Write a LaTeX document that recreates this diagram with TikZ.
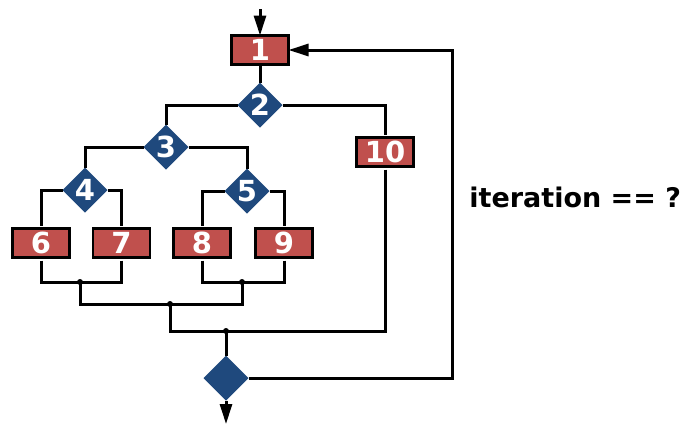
\documentclass[tikz,border=0pt]{standalone}
\usepackage{fontspec}
\usetikzlibrary{shapes.geometric,arrows.meta}
\newfontfamily\labfont{DejaVu Sans}
\definecolor{boxred}{RGB}{192,80,77}
\definecolor{diablue}{RGB}{31,73,125}
\begin{document}
\begin{tikzpicture}[x=1pt,y=-1pt,line width=3pt,every node/.style={outer sep=0pt},
  stepbox/.style={draw=black,line width=2.5pt,fill=boxred,minimum width=57pt,minimum height=29pt,inner sep=0pt,text=white,font=\labfont\bfseries\fontsize{29}{29}\selectfont},
  dia/.style={diamond,fill=diablue,minimum width=45pt,minimum height=45pt,inner sep=0pt,aspect=1,text=white,font=\labfont\bfseries\fontsize{29}{29}\selectfont},
  jdot/.style={circle,fill=black,inner sep=0pt,minimum size=6pt},
  arr/.style={-{Triangle[length=20pt,width=12pt]}},
  gapin/.style={shorten >=3pt},
  gapout/.style={shorten <=3pt}]
\useasboundingbox (0,0) rectangle (688,424);
\node[stepbox] (b1) at (260,50) {1};
\node[dia] (d2) at (260,105) {2};
\node[stepbox] (b10) at (385,152) {10};
\node[dia] (d3) at (166,147) {3};
\node[dia] (d4) at (85,190) {4};
\node[dia] (d5) at (247,191) {5};
\node[stepbox] (b6) at (41,243) {6};
\node[stepbox] (b7) at (121.5,243) {7};
\node[stepbox] (b8) at (202,243) {8};
\node[stepbox] (b9) at (284,243) {9};
\node[jdot] (j1) at (80,282) {};
\node[jdot] (j2) at (242,282) {};
\node[jdot] (j3) at (170,304) {};
\node[jdot] (j4) at (226,331) {};
\node[dia] (d6) at (226,378) {};
\coordinate (top) at (260,9);
\coordinate (out) at (226,424);
\coordinate (fb) at (452,50);
\node[anchor=west,font=\labfont\bfseries\fontsize{27}{27}\selectfont] (q) at (466,197) {iteration == ?};
% connectors
\draw[arr] (top) -- (b1.north);
\draw (b1.south) -- (d2.north);
\draw (d2.west) -| (d3.north);
\draw[gapin] (d2.east) -| (b10.north);
\draw (d3.west) -| (d4.north);
\draw (d3.east) -| (d5.north);
\draw[gapin] (d4.west) -| (b6.north);
\draw[gapin] (d4.east) -| (b7.north);
\draw[gapin] (d5.west) -| (b8.north);
\draw[gapin] (d5.east) -| (b9.north);
\draw[gapout] (b6.south) |- (j1.center);
\draw[gapout] (b7.south) |- (j1.center);
\draw[gapout] (b8.south) |- (j2.center);
\draw[gapout] (b9.south) |- (j2.center);
\draw (j1.center) |- (j3.center);
\draw (j2.center) |- (j3.center);
\draw (j3.center) |- (j4.center);
\draw[gapout] (b10.south) |- (j4.center);
\draw (j4.center) -- (d6.north);
\draw[arr] (d6.south) -- (out);
\draw[arr] (d6.east) -| (fb) -- (b1.east);
\end{tikzpicture}
\end{document}
